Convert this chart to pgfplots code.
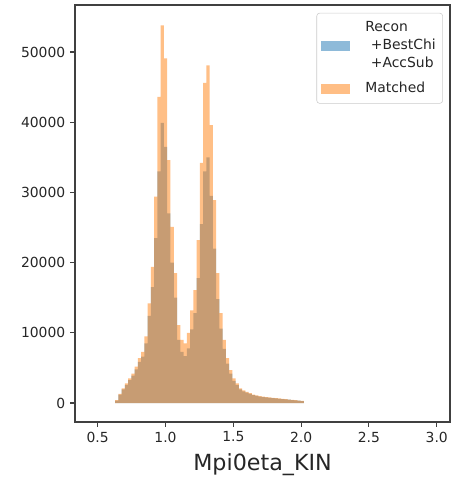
\documentclass[border=0pt]{standalone}
\usepackage{fontspec}
\setmainfont{DejaVu Sans}
\usepackage{pgfplots}
\usepackage{pgfplotstable}
\pgfplotsset{compat=1.18}
\definecolor{mplblue}{RGB}{31,119,180}
\definecolor{mplorange}{RGB}{255,127,14}
\definecolor{legedge}{RGB}{204,204,204}

\pgfplotstableread{
x y
0.629 350
0.653 1200
0.677 1950
0.701 2600
0.725 3250
0.749 3900
0.773 4800
0.797 5850
0.821 6600
0.845 8500
0.869 12400
0.893 16500
0.917 23500
0.941 33000
0.965 39900
0.989 36500
1.013 27000
1.037 20000
1.061 15000
1.085 9000
1.109 7300
1.133 6700
1.157 7800
1.181 10500
1.205 12800
1.229 17800
1.253 25500
1.277 33000
1.301 35000
1.325 29500
1.349 22000
1.373 14800
1.397 10600
1.421 7700
1.445 5600
1.469 4200
1.493 3150
1.517 2550
1.541 1950
1.565 1650
1.589 1480
1.613 1300
1.637 1120
1.661 1020
1.685 930
1.709 840
1.733 790
1.757 740
1.781 700
1.805 650
1.829 600
1.853 560
1.877 510
1.901 470
1.925 420
1.949 370
1.973 330
1.997 280
2.021 280
}\recon

\pgfplotstableread{
x y
0.629 400
0.653 1300
0.677 2100
0.701 2800
0.725 3500
0.749 4200
0.773 5200
0.797 6400
0.821 7300
0.845 9500
0.869 14200
0.893 19400
0.917 29400
0.941 43600
0.965 53800
0.989 49100
1.013 34600
1.037 25100
1.061 18500
1.085 11100
1.109 9000
1.133 8500
1.157 10000
1.181 13200
1.205 16100
1.229 23200
1.253 34200
1.277 45600
1.301 48100
1.325 39600
1.349 28900
1.373 18500
1.397 12800
1.421 9000
1.445 6400
1.469 4700
1.493 3500
1.517 2800
1.541 2100
1.565 1800
1.589 1600
1.613 1400
1.637 1200
1.661 1100
1.685 1000
1.709 900
1.733 850
1.757 800
1.781 750
1.805 700
1.829 650
1.853 600
1.877 550
1.901 500
1.925 450
1.949 400
1.973 350
1.997 300
2.021 300
}\matched

\begin{document}
\begin{tikzpicture}
\begin{axis}[
  scale only axis,
  width=270pt, height=300.2pt,
  xmin=0.333, xmax=3.098,
  ymin=-2700, ymax=56700,
  axis line style={line width=0.8pt, black!75},
  tick align=outside,
  tick pos=left,
  major tick length=3.5pt,
  every tick/.style={line width=0.8pt, black!75},
  xtick={0.5,1.0,1.5,2.0,2.5,3.0},
  ytick={0,10000,20000,30000,40000,50000},
  scaled y ticks=false,
  /pgf/number format/assume math mode=true,
  yticklabel style={/pgf/number format/fixed, /pgf/number format/1000 sep={}, font=\fontsize{10}{12}\selectfont, text=black!85},
  xticklabel style={/pgf/number format/fixed, /pgf/number format/precision=1, /pgf/number format/fixed zerofill, font=\fontsize{10}{12}\selectfont, text=black!85},
  xlabel={Mpi0eta\_KIN},
  xlabel style={font=\fontsize{16}{19}\selectfont, text=black!85, yshift=-1pt},
  legend style={at={(0.981,0.981)}, anchor=north east, draw=legedge, rounded corners=2pt, fill=white, fill opacity=0.8, text opacity=1, font=\fontsize{10}{13}\selectfont, cells={anchor=west, align=left, text=black!85}, row sep=5pt, column sep=9pt, inner xsep=3pt, inner ysep=4pt},
  legend image code/.code={\fill[#1, sharp corners, draw=none] (0pt,-3.5pt) rectangle (21pt,3.5pt);},
]
\addplot[const plot mark left, fill=mplblue, fill opacity=0.5, draw=none] table[x=x,y=y] {\recon} \closedcycle;
\addlegendentry{Recon\\\hspace*{4pt}+BestChi\\\hspace*{4pt}+AccSub}
\addplot[const plot mark left, fill=mplorange, fill opacity=0.5, draw=none] table[x=x,y=y] {\matched} \closedcycle;
\addlegendentry{Matched}
\end{axis}
\pgfresetboundingbox
\path[use as bounding box] ([xshift=-54pt,yshift=-39.6pt]current axis.south west) rectangle ([xshift=1.44pt,yshift=3.6pt]current axis.north east);
\end{tikzpicture}
\end{document}
